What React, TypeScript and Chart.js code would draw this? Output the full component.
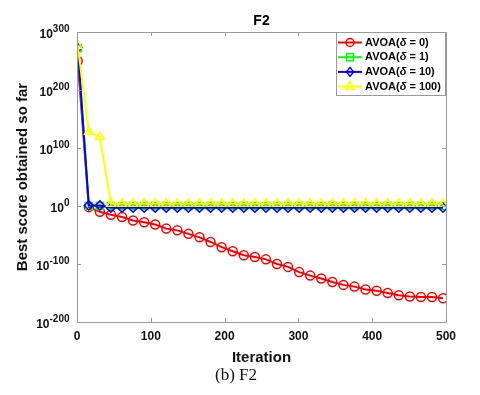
import React, { useEffect, useRef } from 'react';
import { Chart, registerables } from 'chart.js';

Chart.register(...registerables);

const iterations = [1, 16, 31, 46, 61, 76, 91, 106, 121, 136, 151, 166, 181, 196, 211, 226, 241, 256, 271, 286, 301, 316, 331, 346, 361, 376, 391, 406, 421, 436, 451, 466, 481, 496];

const avoa0 = [1e250, 1e-2, 1e-10, 1e-15, 1e-19, 1e-25, 1e-28, 1e-32, 1e-39, 1e-42, 1e-48, 1e-54, 1e-62, 1e-71, 1e-78, 1e-85, 1e-88, 1e-92, 1e-100, 1e-105, 1e-114, 1e-120, 1e-125, 1e-131, 1e-136, 1e-139, 1e-144, 1e-146, 1e-150, 1e-154, 1e-156, 1e-157, 1e-157, 1e-159];
const avoa1 = [1e272, 1e0, 1e0, 1e0, 1e0, 1e0, 1e0, 1e0, 1e0, 1e0, 1e0, 1e0, 1e0, 1e0, 1e0, 1e0, 1e0, 1e0, 1e0, 1e0, 1e0, 1e0, 1e0, 1e0, 1e0, 1e0, 1e0, 1e0, 1e0, 1e0, 1e0, 1e0, 1e0, 1e0];
const avoa10 = [1e273, 1e1, 1e1, 1e-3, 1e-3, 1e-3, 1e-3, 1e-3, 1e-3, 1e-3, 1e-3, 1e-3, 1e-3, 1e-3, 1e-3, 1e-3, 1e-3, 1e-3, 1e-3, 1e-3, 1e-3, 1e-3, 1e-3, 1e-3, 1e-3, 1e-3, 1e-3, 1e-3, 1e-3, 1e-3, 1e-3, 1e-3, 1e-3, 1e-3];
const avoa100 = [1e276, 1e128, 1e119, 1e4, 1e4, 1e4, 1e4, 1e4, 1e4, 1e4, 1e4, 1e4, 1e4, 1e4, 1e4, 1e4, 1e4, 1e4, 1e4, 1e4, 1e4, 1e4, 1e4, 1e4, 1e4, 1e4, 1e4, 1e4, 1e4, 1e4, 1e4, 1e4, 1e4, 1e4];

const deltaLabels = ['0', '1', '10', '100'];
const seriesColors = ['#ff0000', '#00ff00', '#0000ff', '#ffff00'];
const seriesStyles = ['circle', 'rect', 'rectRot', 'triangle'];
const yTickExponents = [-200, -100, 0, 100, 200, 300];
const xTicks = [0, 100, 200, 300, 400, 500];

const FONT = 'Arial, "Liberation Sans", sans-serif';

function drawMarker(ctx: CanvasRenderingContext2D, style: string, x: number, y: number, color: string) {
  ctx.save();
  ctx.strokeStyle = color;
  ctx.lineWidth = 1.5;
  ctx.beginPath();
  if (style === 'circle') {
    ctx.arc(x, y, 4, 0, Math.PI * 2);
  } else if (style === 'rect') {
    ctx.rect(x - 3.5, y - 3.5, 7, 7);
  } else if (style === 'rectRot') {
    ctx.moveTo(x, y - 4.5);
    ctx.lineTo(x + 3.5, y);
    ctx.lineTo(x, y + 4.5);
    ctx.lineTo(x - 3.5, y);
    ctx.closePath();
  } else {
    ctx.moveTo(x, y - 5);
    ctx.lineTo(x + 4.5, y + 3);
    ctx.lineTo(x - 4.5, y + 3);
    ctx.closePath();
  }
  ctx.stroke();
  ctx.restore();
}

const decorPlugin = {
  id: 'decor',
  afterDraw(chart: any) {
    const ctx: CanvasRenderingContext2D = chart.ctx;
    const { left, right, top, bottom } = chart.chartArea;
    const xs = chart.scales.x;
    const ys = chart.scales.y;
    ctx.save();
    // box
    ctx.strokeStyle = '#9a9a9a';
    ctx.lineWidth = 1;
    ctx.strokeRect(Math.round(left) + 0.5, Math.round(top) + 0.5, Math.round(right - left), Math.round(bottom - top));
    // inward ticks
    ctx.beginPath();
    xTicks.forEach((v) => {
      const px = Math.round(xs.getPixelForValue(v)) + 0.5;
      ctx.moveTo(px, bottom);
      ctx.lineTo(px, bottom - 4);
      ctx.moveTo(px, top);
      ctx.lineTo(px, top + 4);
    });
    yTickExponents.forEach((e) => {
      const py = Math.round(ys.getPixelForValue(Math.pow(10, e))) + 0.5;
      ctx.moveTo(left, py);
      ctx.lineTo(left + 4, py);
      ctx.moveTo(right, py);
      ctx.lineTo(right - 4, py);
    });
    ctx.stroke();

    // y tick labels with superscripts
    ctx.fillStyle = '#111';
    ctx.textAlign = 'right';
    ctx.textBaseline = 'middle';
    const labelRight = left - 7.5;
    yTickExponents.forEach((e) => {
      const py = ys.getPixelForValue(Math.pow(10, e));
      const sup = String(e);
      ctx.font = `bold 10px ${FONT}`;
      const w = ctx.measureText(sup).width;
      ctx.fillText(sup, labelRight, py - 3);
      ctx.font = `bold 12px ${FONT}`;
      ctx.fillText('10', labelRight - w, py + 2.5);
    });

    // legend
    const lx0 = 336, ly0 = top, lx1 = right, ly1 = 95;
    ctx.fillStyle = '#ffffff';
    ctx.fillRect(lx0, ly0, lx1 - lx0, ly1 - ly0);
    ctx.strokeStyle = '#9a9a9a';
    ctx.strokeRect(lx0 + 0.5, Math.round(ly0) + 0.5, lx1 - lx0 - 1, ly1 - ly0);
    deltaLabels.forEach((d, i) => {
      const y = 42.5 + i * 14.7;
      const c = seriesColors[i];
      ctx.strokeStyle = c;
      ctx.lineWidth = 2;
      ctx.beginPath();
      ctx.moveTo(338, y);
      ctx.lineTo(362, y);
      ctx.stroke();
      drawMarker(ctx, seriesStyles[i], 350, y, c);
      ctx.fillStyle = '#000';
      ctx.textAlign = 'left';
      ctx.textBaseline = 'middle';
      let x = 365;
      ctx.font = `bold 11px ${FONT}`;
      ctx.fillText('AVOA(', x, y);
      x += ctx.measureText('AVOA(').width;
      ctx.font = `italic bold 11px ${FONT}`;
      ctx.fillText('δ', x, y);
      x += ctx.measureText('δ').width;
      ctx.font = `bold 11px ${FONT}`;
      ctx.fillText(` = ${d})`, x, y);
    });
    ctx.restore();
  },
};

export default function App() {
  const canvasRef = useRef<HTMLCanvasElement | null>(null);

  useEffect(() => {
    const canvas = canvasRef.current;
    if (!canvas) return;
    const seriesData = [avoa0, avoa1, avoa10, avoa100];
    const chart = new Chart(canvas, {
      type: 'line',
      data: {
        datasets: seriesData.map((vals, i) => ({
          label: `AVOA(δ = ${deltaLabels[i]})`,
          data: iterations.map((it, j) => ({ x: it, y: vals[j] })),
          borderColor: seriesColors[i],
          borderWidth: 2,
          pointStyle: seriesStyles[i] as any,
          pointRadius: seriesStyles[i] === 'triangle' ? 5 : seriesStyles[i] === 'rect' ? 5 : 4.5,
          pointBorderWidth: 1.5,
          pointBorderColor: seriesColors[i],
          pointBackgroundColor: 'rgba(255,255,255,0)',
          tension: 0,
          fill: false,
          order: 4 - i,
        })),
      },
      options: {
        responsive: false,
        animation: false,
        events: [],
        layout: { padding: { left: 0, right: 34, top: 0, bottom: 0 } },
        plugins: {
          legend: { display: false },
          tooltip: { enabled: false },
          title: {
            display: true,
            text: 'F2',
            fullSize: false,
            color: '#000',
            font: { family: FONT, size: 14, weight: 'bold' },
            padding: { top: 12.6, bottom: 2.6 },
          },
        },
        scales: {
          x: {
            type: 'linear',
            min: 0,
            max: 500,
            afterBuildTicks: (s: any) => {
              s.ticks = xTicks.map((v) => ({ value: v }));
            },
            ticks: {
              color: '#111',
              font: { family: FONT, size: 12, weight: 'bold' },
              padding: 7,
              maxRotation: 0,
              autoSkip: false,
            },
            grid: { display: false, drawTicks: false },
            border: { display: false },
            title: {
              display: true,
              text: 'Iteration',
              color: '#111',
              font: { family: FONT, size: 15, weight: 'bold' },
              padding: { top: 0, bottom: 28.5 },
            },
            afterFit: (s: any) => {
              s.height = 73;
            },
          },
          y: {
            type: 'logarithmic',
            min: 1e-200,
            max: 1e300,
            afterBuildTicks: (s: any) => {
              s.ticks = yTickExponents.map((e) => ({ value: Math.pow(10, e) }));
            },
            ticks: { display: false },
            grid: { display: false, drawTicks: false },
            border: { display: false },
            title: {
              display: true,
              text: 'Best score obtained so far',
              color: '#111',
              font: { family: FONT, size: 15, weight: 'bold' },
              padding: { top: 14, bottom: 0 },
            },
            afterFit: (s: any) => {
              s.width = 77;
            },
          },
        },
      } as any,
      plugins: [decorPlugin],
    });
    return () => chart.destroy();
  }, []);

  return (
    <div style={{ position: 'absolute', left: 0, top: 0, width: 480, height: 395, background: '#fff', overflow: 'hidden' }}>
      <canvas ref={canvasRef} width={480} height={395} style={{ width: 480, height: 395, display: 'block' }} />
      <div
        style={{
          position: 'absolute',
          left: 0,
          width: 472,
          top: 365,
          textAlign: 'center',
          fontFamily: '"Times New Roman", "Liberation Serif", serif',
          fontSize: 17,
          lineHeight: '20px',
          color: '#111',
        }}
      >
        (b) F2
      </div>
    </div>
  );
}
